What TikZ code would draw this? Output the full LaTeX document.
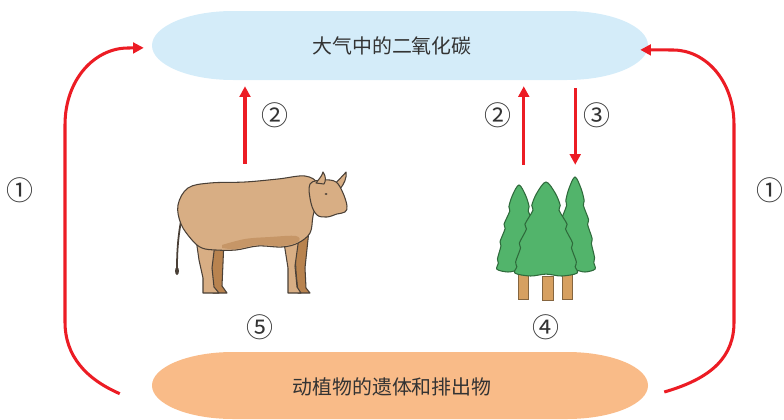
\documentclass[tikz,border=0pt]{standalone}
\usepackage{fontspec}
\newfontfamily\cjk{Noto Sans CJK SC}
\usetikzlibrary{arrows.meta}

\definecolor{airblue}{HTML}{D4ECF9}
\definecolor{remainsorange}{HTML}{F9BB88}
\definecolor{flowred}{HTML}{EC1C24}
\definecolor{textgray}{HTML}{333333}
\definecolor{cowhide}{HTML}{D8AE84}
\definecolor{cowshade}{HTML}{B8834F}
\definecolor{cowline}{HTML}{4A4037}
\definecolor{leafgreen}{HTML}{52B46B}
\definecolor{leafline}{HTML}{2E6A3B}
\definecolor{bark}{HTML}{D6A061}
\definecolor{barkline}{HTML}{85653F}

% one fir: tip x, tip y, half width, height
\newcommand{\conifer}[4]{%
  \filldraw[fir, shift={(#1,#2)}, xscale=#3, yscale=#4]
    plot[smooth cycle, tension=.55] coordinates {
      (0,0) (.3,.12) (.46,.25) (.42,.3) (.68,.45) (.63,.5) (.86,.65)
      (.82,.7) (.98,.85) (.94,.9) (1,.97) (.5,1) (0,.98) (-.5,1) (-1,.97)
      (-.94,.9) (-.98,.85) (-.82,.7) (-.86,.65) (-.63,.5) (-.68,.45)
      (-.42,.3) (-.46,.25) (-.3,.12)};
}

\begin{document}
\begin{tikzpicture}[x=0.03cm, y=-0.03cm,
  label/.style={font=\cjk\fontsize{17}{20}\selectfont, text=textgray},
  num/.style={font=\cjk\fontsize{23}{26}\selectfont, text=textgray},
  flow/.style={draw=flowred, line width=2.6pt, -{Triangle[length=0.32cm, width=0.32cm]}},
  hide/.style={fill=cowhide, draw=cowline, line width=0.9pt, line join=round},
  fir/.style={fill=leafgreen, draw=leafline, line width=0.9pt},
  trunk/.style={fill=bark, draw=barkline, line width=0.6pt}]

  \useasboundingbox (0,0) rectangle (784,419);

  % the two boxes with elliptic ends
  \fill[airblue] (233,11) -- (567,11) arc[start angle=-90, end angle=90, x radius=81, y radius=34.5]
    -- (233,80) arc[start angle=90, end angle=270, x radius=81, y radius=34.5] -- cycle;
  \fill[remainsorange] (233,352) -- (567,352) arc[start angle=-90, end angle=90, x radius=81, y radius=33.5]
    -- (233,419) arc[start angle=90, end angle=270, x radius=81, y radius=33.5] -- cycle;

  \node[label, minimum width=14.88cm, minimum height=2.07cm] (air) at (392,45.5) {大气中的二氧化碳};
  \node[label, minimum width=14.88cm, minimum height=2.0cm] (remains) at (392,387) {动植物的遗体和排出物};

  % places of the animal and the plants
  \node[inner sep=0, minimum width=5.4cm, minimum height=3.96cm] (cow) at (245,230) {};
  \node[inner sep=0, minimum width=1.53cm, minimum height=4.05cm] (trees) at (549.5,232.5) {};

  % cow: legs under the body
  \filldraw[hide, fill=cowshade] (207,236) -- (224,240) -- (222,286) -- (227,293) -- (213,293) -- (212,272) -- cycle;
  \filldraw[hide, fill=cowshade] (294,230) -- (309,230) -- (305,268) -- (306,288) -- (310,293) -- (298,293) -- (296,272) -- cycle;
  \filldraw[hide] (194,225) -- (216,235) -- (212,268) -- (214,287) -- (219,293) -- (203,293) -- (203,278) -- (199,260) -- cycle;
  \filldraw[hide] (282,230) -- (300,230) -- (295,266) -- (297,287) -- (301,293) -- (288,293) -- (288,268) -- cycle;
  \draw[cowline, line width=1.5pt, line cap=round] (182,216) .. controls (178,235) and (177,252) .. (177,268);
  \fill[cowline] (177,271) ellipse (2 and 4);
  \filldraw[hide] plot[smooth cycle, tension=.6] coordinates {
    (188,188) (210,183) (245,182) (278,179) (305,176) (318,184) (317,200)
    (313,216) (310,233) (298,243) (282,247) (258,246) (236,250) (216,250)
    (202,248) (192,240) (181,224) (178,205)};
  \fill[cowshade!55!cowhide] plot[smooth, tension=.6] coordinates {
    (222,245) (245,239) (270,237) (296,236) (298,242) (282,246) (258,245) (236,249) (222,248)};
  % head and horns
  \filldraw[hide] (335,184) .. controls (339,179) and (343,176) .. (346,172)
    .. controls (347,178) and (344,184) .. (340,189) -- cycle;
  \filldraw[hide] plot[smooth cycle, tension=.6] coordinates {
    (310,184) (324,180) (336,182) (343,193) (347,206) (345,212) (337,214)
    (327,217) (317,215) (311,203)};
  \filldraw[hide] (316,183) .. controls (319,179) and (322,176) .. (323,172)
    .. controls (326,176) and (326,181) .. (324,184) -- cycle;
  \fill[cowline] (326,194) ellipse (1.5 and 1);

  % firs and their trunks
  \filldraw[trunk] (518,272) rectangle (528,299);
  \filldraw[trunk] (542,276) rectangle (553,300);
  \filldraw[trunk] (562,272) rectangle (572,299);
  \conifer{519}{185}{22}{87}
  \conifer{575}{177}{20}{95}
  \conifer{546}{182}{31}{94}

  % exchanges with the air
  \draw[flow, shorten >=0.18cm] (cow.north) -- (cow.north |- air.south);
  \draw[flow, shorten >=0.18cm] (trees.north west) -- (trees.north west |- air.south);
  \draw[flow, shorten <=0.24cm] (trees.north east |- air.south) -- (trees.north east);

  % decomposition back into the air
  \draw[flow] ([shift={(-0.72cm,-0.2cm)}]remains.west) .. controls (86,379) and (65,356) .. (65,322)
    -- (65,125) .. controls (65,79) and (95,48) .. (128,48) -- ([yshift=-0.07cm]air.west);
  \draw[flow] ([shift={(0.72cm,-0.15cm)}]remains.east) .. controls (713,378) and (734,356) .. (734,322)
    -- (734,125) .. controls (734,80) and (705,50) .. (673,50) -- ([yshift=-0.13cm]air.east);

  \node[num] (one l) at (20,190) {①};
  \node[num] (one r) at (770,190) {①};
  \node[num] (two a) at (275,115) {②};
  \node[num] (two p) at (498,115) {②};
  \node[num] (three) at (597,115) {③};
  \node[num] (four) at (546,327) {④};
  \node[num] (five) at (260,327) {⑤};
\end{tikzpicture}
\end{document}
